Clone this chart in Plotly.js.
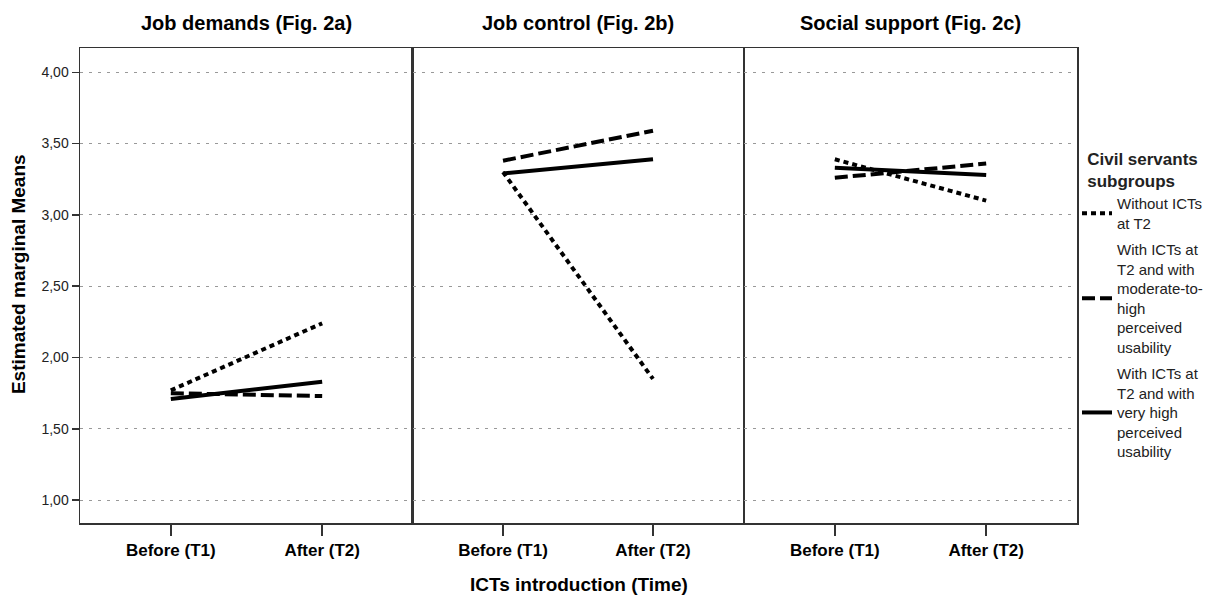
<!DOCTYPE html>
<html>
<head>
<meta charset="utf-8">
<script src="https://cdn.plot.ly/plotly-3.0.1.min.js"></script>
<style>html,body{margin:0;padding:0;background:#fff;}#chart{width:1205px;height:598px;}</style>
</head>
<body>
<div id="chart"></div>
<script>
const times = ["Before (T1)", "After (T2)"];
const panelTitles = ["Job demands (Fig. 2a)", "Job control (Fig. 2b)", "Social support (Fig. 2c)"];
const groupNames = [
  "Without ICTs<br>at T2",
  "With ICTs at<br>T2 and with<br>moderate-to-<br>high<br>perceived<br>usability",
  "With ICTs at<br>T2 and with<br>very high<br>perceived<br>usability"
];
// values per panel: [without ICTs, moderate-to-high, very high]
const jobDemands = [[1.77, 2.24], [1.75, 1.73], [1.71, 1.83]];
const jobControl = [[3.30, 1.85], [3.38, 3.59], [3.29, 3.39]];
const socialSupport = [[3.39, 3.10], [3.26, 3.36], [3.33, 3.28]];
const yTicks = [1.0, 1.5, 2.0, 2.5, 3.0, 3.5, 4.0];

const panels = [jobDemands, jobControl, socialSupport];
const dashes = ["5px,4px", "13px,5px", "solid"];
const FONT = "Liberation Sans, Arial, sans-serif";

const traces = [];
panels.forEach((panel, p) => {
  panel.forEach((vals, g) => {
    traces.push({
      x: times, y: vals, type: "scatter", mode: "lines",
      name: groupNames[g], legendgroup: "g" + g, showlegend: p === 0,
      xaxis: p === 0 ? "x" : "x" + (p + 1), yaxis: p === 0 ? "y" : "y" + (p + 1),
      line: {color: "#000", width: 4, dash: dashes[g]},
      hoverinfo: "skip"
    });
  });
});

const doms = [[0, 0.334], [0.334, 0.665], [0.666, 1]];
const layout = {
  width: 1205, height: 598,
  margin: {l: 80, r: 128, t: 48, b: 75, autoexpand: false},
  paper_bgcolor: "#fff", plot_bgcolor: "#fff",
  separators: ",.",
  font: {family: FONT, color: "#000", size: 13},
  showlegend: true,
  legend: {
    x: 1.0, xanchor: "left", y: 0.80, yanchor: "top",
    title: {text: "<b>Civil servants<br>subgroups</b>", font: {size: 17, family: FONT}, side: "top center"},
    font: {size: 15, family: FONT, color: "#222"},
    tracegroupgap: 4, itemwidth: 30, valign: "middle",
    bgcolor: "rgba(0,0,0,0)"
  },
  annotations: [],
  shapes: []
};
doms.forEach((d, i) => {
  const xs = i === 0 ? "xaxis" : "xaxis" + (i + 1);
  const ys = i === 0 ? "yaxis" : "yaxis" + (i + 1);
  layout[xs] = {
    domain: d, type: "category", range: [-0.6, 1.6],
    anchor: i === 0 ? "y" : "y" + (i + 1),
    showline: true, linecolor: "#333", linewidth: 1.5, mirror: true,
    ticks: "outside", ticklen: 11, tickwidth: 1.5, tickcolor: "#333",
    tickfont: {size: 17, family: FONT}, showgrid: false, zeroline: false,
    tickprefix: "<b>", ticksuffix: "</b>", fixedrange: true
  };
  layout[ys] = {
    domain: [0, 1], range: [0.84, 4.17],
    anchor: i === 0 ? "x" : "x" + (i + 1),
    tickvals: yTicks, tickformat: ".2f",
    showticklabels: i === 0,
    ticks: i === 0 ? "outside" : "", ticklen: 7, tickcolor: "#333", tickwidth: 1.5,
    showline: true, linecolor: "#333", linewidth: 1.5, mirror: true,
    showgrid: true, gridcolor: "#999", griddash: "3px,6px", gridwidth: 1,
    zeroline: false, tickfont: {size: 14, family: FONT, color: "#222"}, fixedrange: true
  };
  layout.annotations.push({
    text: "<b>" + panelTitles[i] + "</b>", xref: "paper", yref: "paper",
    x: (d[0] + d[1]) / 2, y: 1, yshift: 25, xanchor: "center", yanchor: "middle",
    showarrow: false, font: {size: 20, family: FONT}
  });
});
layout.annotations.push({
  text: "<b>Estimated marginal Means</b>", xref: "paper", yref: "paper",
  x: 0, xshift: -62, y: 0.524, textangle: -90, xanchor: "center", yanchor: "middle",
  showarrow: false, font: {size: 19, family: FONT}
});
layout.annotations.push({
  text: "<b>ICTs introduction (Time)</b>", xref: "paper", yref: "paper",
  x: 0.5, y: 0, yshift: -61, xanchor: "center", yanchor: "middle",
  showarrow: false, font: {size: 19, family: FONT}
});

Plotly.newPlot("chart", traces, layout, {displayModeBar: false, staticPlot: true});
</script>
</body>
</html>
